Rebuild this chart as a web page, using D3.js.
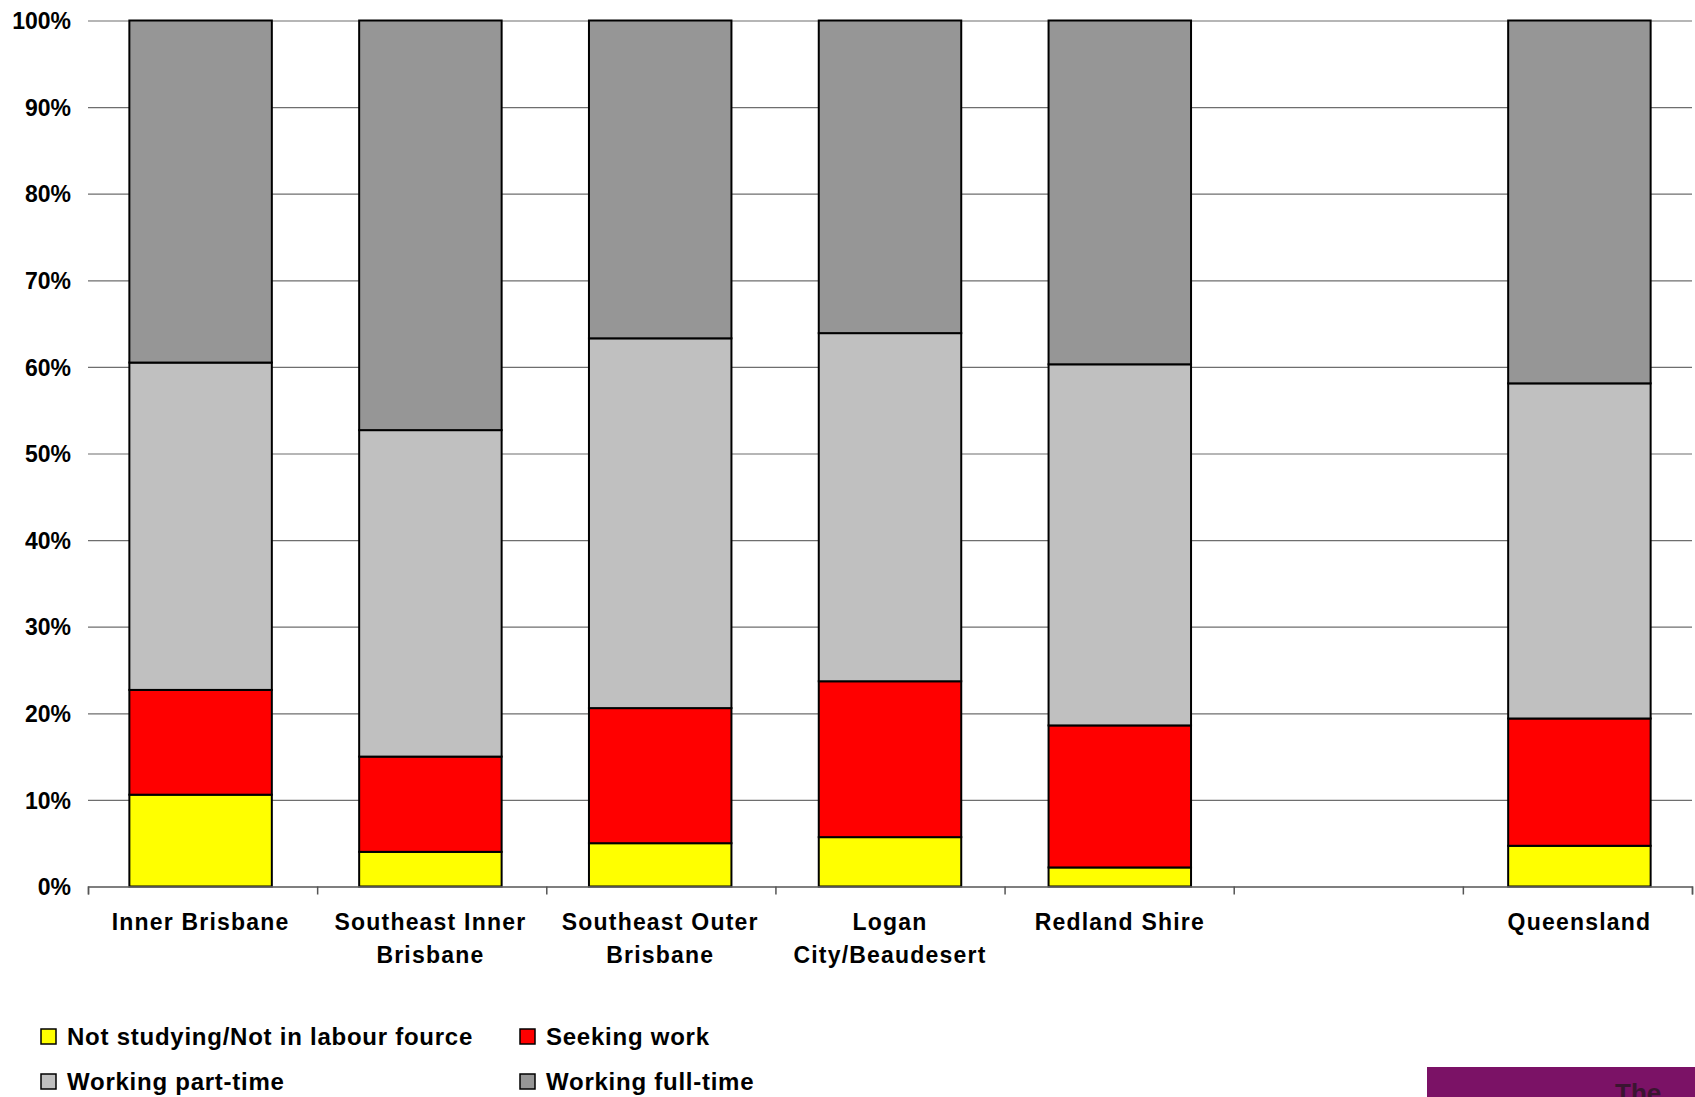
<!DOCTYPE html>
<html>
<head>
<meta charset="utf-8">
<script src="https://cdn.jsdelivr.net/npm/d3@7"></script>
<style>
    body { margin: 0; background: #fff; }
    svg { display: block; font-family: "Liberation Sans", Arial, sans-serif; font-weight: bold; }
</style>
</head>
<body>
<svg id="chart" width="1695" height="1097"></svg>
<script>
// categories (blank slot kept as in the original sheet)
const categories = ["Inner Brisbane", "Southeast Inner Brisbane", "Southeast Outer Brisbane",
    "Logan City/Beaudesert", "Redland Shire", " ", "Queensland"];
const categoryLines = [["Inner Brisbane"], ["Southeast Inner", "Brisbane"], ["Southeast Outer", "Brisbane"],
    ["Logan", "City/Beaudesert"], ["Redland Shire"], [""], ["Queensland"]];

const seriesNames = ["Not studying/Not in labour fource", "Seeking work", "Working part-time", "Working full-time"];
const seriesColors = ["#FFFF00", "#FF0000", "#C0C0C0", "#969696"];

// percent values per category, blank slot has none
const notStudying = [10.6, 4.0, 5.0, 5.7, 2.2, null, 4.7];
const seekingWork = [12.1, 11.0, 15.6, 18.0, 16.4, null, 14.7];
const partTime    = [37.8, 37.7, 42.7, 40.2, 41.7, null, 38.7];
const fullTime    = [39.5, 47.3, 36.7, 36.1, 39.7, null, 41.9];

const yTicks = [0, 10, 20, 30, 40, 50, 60, 70, 80, 90, 100];

const svg = d3.select("#chart");
const plotLeft = 88, plotRight = 1692, plotTop = 20.5, plotBottom = 886.5;

const x = d3.scaleBand().domain(categories).range([plotLeft, plotRight]).paddingInner(0.38).paddingOuter(0.18);
const xEdge = d3.scaleLinear().domain([0, categories.length]).range([plotLeft, plotRight]);
const y = d3.scaleLinear().domain([0, 100]).range([plotBottom, plotTop]);

// gridlines
svg.append("g")
    .attr("transform", `translate(${plotLeft},0)`)
    .call(d3.axisLeft(y).tickValues(yTicks).tickSize(-(plotRight - plotLeft)).tickFormat(""))
    .call(g => g.select(".domain").remove())
    .call(g => g.selectAll("line").attr("stroke", "#6e6e6e").attr("stroke-width", 1.2));

// y labels
svg.append("g")
    .attr("transform", `translate(${plotLeft - 17},0)`)
    .call(d3.axisLeft(y).tickValues(yTicks).tickSize(0).tickFormat(d => d + "%"))
    .call(g => g.select(".domain").remove())
    .call(g => g.selectAll("text")
        .attr("font-family", "'Liberation Sans', Arial, sans-serif")
        .attr("font-weight", "bold")
        .attr("font-size", 23)
        .attr("fill", "#000")
        .attr("dy", "0.36em")
        .attr("x", 0));

// stacked bars
const rows = categories.map((c, i) => ({
    cat: c,
    v: [notStudying[i], seekingWork[i], partTime[i], fullTime[i]]
})).filter(r => r.v[0] !== null);

const stackData = rows.map(r => {
    let acc = 0;
    return r.v.map((v, k) => {
        const seg = { cat: r.cat, k: k, y0: acc, y1: acc + v };
        acc += v;
        return seg;
    });
}).flat();

svg.append("g").selectAll("rect")
    .data(stackData)
    .join("rect")
    .attr("x", d => x(d.cat))
    .attr("width", x.bandwidth())
    .attr("y", d => y(d.y1))
    .attr("height", d => y(d.y0) - y(d.y1))
    .attr("fill", d => seriesColors[d.k])
    .attr("stroke", "#000")
    .attr("stroke-width", 2);

// x axis line with boundary ticks
svg.append("g")
    .attr("transform", `translate(0,${plotBottom})`)
    .call(d3.axisBottom(xEdge).tickValues(d3.range(categories.length + 1)).tickSize(8).tickFormat(""))
    .call(g => g.select(".domain").attr("stroke", "#6e6e6e").attr("stroke-width", 1.5))
    .call(g => g.selectAll("line").attr("stroke", "#555").attr("stroke-width", 1.5));

// category labels
const labels = svg.append("g").selectAll("text")
    .data(categories)
    .join("text")
    .attr("text-anchor", "middle")
    .attr("font-size", 23)
    .attr("letter-spacing", 1.2)
    .attr("fill", "#000");

labels.selectAll("tspan")
    .data((d, i) => categoryLines[i].map(line => ({ line: line, cat: d })))
    .join("tspan")
    .attr("x", d => x(d.cat) + x.bandwidth() / 2)
    .attr("y", (d, j) => 930 + j * 33)
    .text(d => d.line);

// legend
const legendPos = [[41, 1045], [520, 1045], [41, 1090], [520, 1090]];
const legend = svg.append("g").selectAll("g")
    .data(seriesNames)
    .join("g")
    .attr("transform", (d, i) => `translate(${legendPos[i][0]},${legendPos[i][1]})`);

legend.append("rect")
    .attr("x", 0)
    .attr("y", -16)
    .attr("width", 15)
    .attr("height", 15)
    .attr("fill", (d, i) => seriesColors[i])
    .attr("stroke", "#000")
    .attr("stroke-width", 1.5);

legend.append("text")
    .attr("x", 26)
    .attr("y", 0)
    .attr("font-size", 24)
    .attr("letter-spacing", 0.75)
    .attr("fill", "#000")
    .text(d => d);

// purple strip at bottom right corner
svg.append("rect")
    .attr("x", 1427)
    .attr("y", 1067)
    .attr("width", 268)
    .attr("height", 30)
    .attr("fill", "#7B1266");
svg.append("text")
    .attr("x", 1615)
    .attr("y", 1102)
    .attr("font-size", 26)
    .attr("fill", "#3a1530")
    .text("The");
</script>
</body>
</html>
